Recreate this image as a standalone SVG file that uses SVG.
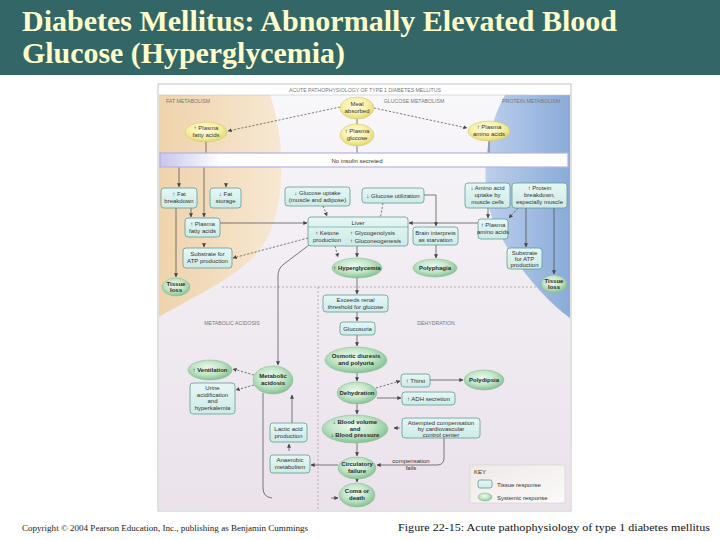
<svg xmlns="http://www.w3.org/2000/svg" width="720" height="540" viewBox="0 0 720 540">
<defs>
<style>
.box{fill:url(#boxg);stroke:#5f9c96;stroke-width:0.8}
.ell{fill:url(#ellg);stroke:#86b892;stroke-width:0.5}
.yel{fill:url(#yelg);stroke:#cfc46a;stroke-width:0.5}
.t{font-family:"Liberation Sans",Arial,sans-serif;font-size:6px;fill:#333;text-anchor:middle}
.s{text-anchor:start}
.b{font-weight:bold;fill:#2a2a2a}
.sec{font-family:"Liberation Sans",Arial,sans-serif;font-size:5.2px;fill:#777;text-anchor:middle}
.c{stroke:#454545;stroke-width:0.7;fill:none}
.a{marker-end:url(#ah)}
.d{stroke-dasharray:2.2 1.6}
.sep{stroke:#a3a3a3;stroke-width:0.8;stroke-dasharray:2 2;fill:none}
</style>
<marker id="ah" viewBox="0 0 6 6" refX="5.5" refY="3" markerWidth="4" markerHeight="4" markerUnits="userSpaceOnUse" orient="auto">
<path d="M0,0 L6,3 L0,6 Z" fill="#454545"/>
</marker>
<linearGradient id="boxg" x1="0" y1="0" x2="0" y2="1">
<stop offset="0" stop-color="#e6f7f5"/><stop offset="1" stop-color="#cdebe7"/>
</linearGradient>
<radialGradient id="ellg" cx="0.45" cy="0.4" r="0.6">
<stop offset="0" stop-color="#eef9ee"/><stop offset="0.55" stop-color="#c3e6c8"/><stop offset="1" stop-color="#86c295"/>
</radialGradient>
<radialGradient id="yelg" cx="0.45" cy="0.4" r="0.6">
<stop offset="0" stop-color="#fffde0"/><stop offset="0.6" stop-color="#f7f1a8"/><stop offset="1" stop-color="#e2d874"/>
</radialGradient>
<linearGradient id="bgg" x1="0" y1="0" x2="0" y2="1">
<stop offset="0" stop-color="#f8f7fa"/><stop offset="0.45" stop-color="#f1ecf2"/><stop offset="1" stop-color="#ebe2ec"/>
</linearGradient>
<linearGradient id="fatg" x1="0" y1="0" x2="1" y2="0">
<stop offset="0" stop-color="#efd3ac"/><stop offset="1" stop-color="#f7e8d3"/>
</linearGradient>
<linearGradient id="protg" x1="0" y1="0" x2="1" y2="0">
<stop offset="0" stop-color="#bccfec"/><stop offset="1" stop-color="#8aabd9"/>
</linearGradient>
<linearGradient id="barg" x1="0" y1="0" x2="1" y2="0">
<stop offset="0" stop-color="#c8c6ec"/><stop offset="0.15" stop-color="#ffffff"/><stop offset="1" stop-color="#ffffff"/>
</linearGradient>
<linearGradient id="keyg" x1="0" y1="0" x2="1" y2="1">
<stop offset="0" stop-color="#efe9e6"/><stop offset="1" stop-color="#fbfafa"/>
</linearGradient>
</defs>

<rect x="0" y="0" width="720" height="540" fill="#ffffff"/>
<rect x="0" y="0" width="720" height="75" fill="#336666"/>
<text x="22" y="31" font-family="'Liberation Serif','Times New Roman',serif" font-size="30" font-weight="bold" fill="#ffffcc" textLength="595" lengthAdjust="spacingAndGlyphs">Diabetes Mellitus: Abnormally Elevated Blood</text>
<text x="22" y="63" font-family="'Liberation Serif','Times New Roman',serif" font-size="30" font-weight="bold" fill="#ffffcc" textLength="323" lengthAdjust="spacingAndGlyphs">Glucose (Hyperglycemia)</text>

<!-- figure frame -->
<rect x="158" y="84" width="413" height="427" fill="#ffffff" stroke="#b3b3b3" stroke-width="0.8"/>
<rect x="159" y="95" width="411" height="415" fill="url(#bgg)"/>
<path d="M159,95 L270,95 C284,135 288,200 266,240 C245,275 205,290 159,317 Z" fill="url(#fatg)"/>
<path d="M505,95 C482,135 478,200 500,235 C518,268 545,300 570,318 L570,95 Z" fill="url(#protg)"/>
<line x1="159" y1="95" x2="570" y2="95" stroke="#c4c4c4" stroke-width="0.6"/>
<text x="365" y="91.5" class="sec" font-size="5.6">ACUTE PATHOPHYSIOLOGY OF TYPE 1 DIABETES MELLITUS</text>
<text x="188" y="103" class="sec">FAT METABOLISM</text>
<text x="414" y="103" class="sec">GLUCOSE METABOLISM</text>
<text x="531" y="103" class="sec">PROTEIN METABOLISM</text>
<path class="sep" d="M222,287 L568,287 M318,287 L318,510"/>
<text x="232" y="325" class="sec">METABOLIC ACIDOSIS</text>
<text x="436" y="325" class="sec">DEHYDRATION</text>

<g id="connectors">
<path class="c d a" d="M340,107 L228,131"/>
<path class="c d a" d="M374,108 L467,128"/>
<path class="c" d="M357,119 L357,124"/>
<path class="c" d="M206,142 L206,153"/>
<path class="c" d="M357,146 L357,153"/>
<path class="c" d="M489,141 L489,153"/>
<path class="c a" d="M179,167 L179,187"/>
<path class="c a" d="M204,167 L204,217"/>
<path class="c a" d="M226,183 L226,187"/>
<path class="c a" d="M191,208 L191,217"/>
<path class="c a" d="M176,208 L176,277"/>
<path class="c a" d="M220,223 L307,223"/>
<path class="c a" d="M204,243 L204,247"/>
<path class="c d a" d="M308,238 L233,258"/>
<path class="c d a" d="M323,206 L327,216"/>
<path class="c d a" d="M383,203 L379,226"/>
<path class="c a" d="M424,195 L436,195 L436,226"/>
<path class="c a" d="M478,223 L409,223"/>
<path class="c a" d="M436,245 L436,258"/>
<path class="c a" d="M488,208 L488,218"/>
<path class="c d a" d="M518,208 L509,218"/>
<path class="c a" d="M526,208 L526,247"/>
<path class="c a" d="M554,208 L554,274"/>
<path class="c d a" d="M335,246 L338,257"/>
<path class="c a" d="M357,246 L357,257"/>
<path class="c a" d="M309,245 L284,264 Q278,268 278,276 L278,365"/>
<path class="c a" d="M357,278 L357,294"/>
<path class="c a" d="M357,312 L357,321"/>
<path class="c a" d="M357,335 L357,346"/>
<path class="c a" d="M357,373 L357,381"/>
<path class="c d a" d="M376,388 L400,381"/>
<path class="c a" d="M377,398 L401,398"/>
<path class="c a" d="M430,380 L463,380"/>
<path class="c a" d="M357,404 L357,414"/>
<path class="c a" d="M400,428 L394,428"/>
<path class="c a" d="M444,438 L444,458 Q444,465 437,465 L377,465"/>
<path class="c a" d="M357,443 L357,456"/>
<path class="c a" d="M357,479 L357,482"/>
<path class="c a" d="M338,465 L311,465"/>
<path class="c a" d="M289,451 L289,444"/>
<path class="c a" d="M292,423 L292,395"/>
<path class="c d a" d="M254,375 L233,369"/>
<path class="c d a" d="M254,385 L236,390"/>
<path class="c" d="M263,393 L263,488 Q263,497 272,498"/>
<path class="c a" d="M331,498 L338,498"/>
</g>
<text x="411" y="462.5" class="t" font-size="5.5">compensation</text>
<text x="411" y="470" class="t" font-size="5.5">fails</text>

<!-- insulin bar -->
<g id="bar">
<rect x="160" y="153" width="408" height="14" fill="url(#barg)" stroke="#b4b2e2" stroke-width="1.2"/>
<text x="357" y="162.5" class="t">No insulin secreted</text>
</g>

<g id="meal"><ellipse cx="357" cy="108" rx="17" ry="11" class="yel"/><text class="t" x="357" y="106">Meal</text><text class="t" x="357" y="113">absorbed</text></g>
<g id="pglu"><ellipse cx="357" cy="135" rx="17" ry="11" class="yel"/><text class="t" x="357" y="133">↑ Plasma</text><text class="t" x="357" y="140">glucose</text></g>
<g id="pfa1"><ellipse cx="206" cy="132" rx="21" ry="10" class="yel"/><text class="t" x="206" y="130">↑ Plasma</text><text class="t" x="206" y="137">fatty acids</text></g>
<g id="paa1"><ellipse cx="489" cy="131" rx="21" ry="10" class="yel"/><text class="t" x="489" y="129">↑ Plasma</text><text class="t" x="489" y="136">amino acids</text></g>

<g id="fatbrk"><rect x="161" y="188" width="36" height="20" rx="3" class="box"/><text class="t" x="179" y="196">↑ Fat</text><text class="t" x="179" y="203">breakdown</text></g>
<g id="fatsto"><rect x="210" y="188" width="31" height="20" rx="3" class="box"/><text class="t" x="225.5" y="196">↓ Fat</text><text class="t" x="225.5" y="203">storage</text></g>
<g id="gupt"><rect x="285" y="187" width="65" height="19" rx="3" class="box"/><text class="t" x="317.5" y="195">↓ Glucose uptake</text><text class="t" x="317.5" y="202">(muscle and adipose)</text></g>
<g id="gutil"><rect x="362" y="188" width="62" height="15" rx="3" class="box"/><text class="t" x="393" y="197.5">↓ Glucose utilization</text></g>
<g id="aaupt"><rect x="465" y="183" width="45" height="25" rx="3" class="box"/><text class="t" x="487.5" y="190">↓ Amino acid</text><text class="t" x="487.5" y="197">uptake by</text><text class="t" x="487.5" y="204">muscle cells</text></g>
<g id="protbrk"><rect x="512" y="183" width="55" height="25" rx="3" class="box"/><text class="t" x="539.5" y="190">↑ Protein</text><text class="t" x="539.5" y="197">breakdown,</text><text class="t" x="539.5" y="204">especially muscle</text></g>
<g id="pfa2"><rect x="185" y="218" width="35" height="19" rx="3" class="box"/><text class="t" x="202.5" y="226">↑ Plasma</text><text class="t" x="202.5" y="233">fatty acids</text></g>
<g id="liver"><rect x="308" y="217" width="100" height="29" rx="3" class="box"/><line x1="308" y1="227" x2="408" y2="227" stroke="#5f9c96" stroke-width="0.6"/><text class="t" x="358" y="224.5">Liver</text><text class="t" x="327" y="235">↑ Ketone</text><text class="t" x="327" y="242">production</text><text class="t s" x="350" y="235">↑ Glycogenolysis</text><text class="t s" x="350" y="243">↑ Gluconeogenesis</text></g>
<g id="brain"><rect x="413" y="227" width="45" height="18" rx="3" class="box"/><text class="t" x="435.5" y="234.5">Brain interprets</text><text class="t" x="435.5" y="241.5">as starvation</text></g>
<g id="paa2"><rect x="478" y="219" width="30" height="20" rx="3" class="box"/><text class="t" x="493" y="227">↑ Plasma</text><text class="t" x="493" y="234">amino acids</text></g>
<g id="sub1"><rect x="183" y="248" width="49" height="20" rx="3" class="box"/><text class="t" x="207.5" y="256">Substrate for</text><text class="t" x="207.5" y="263">ATP production</text></g>
<g id="sub2"><rect x="507" y="248" width="35" height="21" rx="3" class="box"/><text class="t" x="524.5" y="254.5">Substrate</text><text class="t" x="524.5" y="260.5">for ATP</text><text class="t" x="524.5" y="266.5">production</text></g>

<g id="tissue1"><ellipse cx="176" cy="287" rx="14" ry="9" class="ell"/><text class="t b" x="176" y="285.5">Tissue</text><text class="t b" x="176" y="292">loss</text></g>
<g id="hyper"><ellipse cx="357" cy="268" rx="25" ry="10" class="ell"/><text class="t b" x="357" y="270">↑ Hyperglycemia</text></g>
<g id="polyph"><ellipse cx="435" cy="268" rx="22" ry="9" class="ell"/><text class="t b" x="435" y="270">Polyphagia</text></g>
<g id="tissue2"><ellipse cx="554" cy="284" rx="13" ry="9" class="ell"/><text class="t b" x="554" y="282.5">Tissue</text><text class="t b" x="554" y="289">loss</text></g>

<g id="exceeds"><rect x="323" y="295" width="65" height="17" rx="3" class="box"/><text class="t" x="355.5" y="302">Exceeds renal</text><text class="t" x="355.5" y="309">threshold for glucose</text></g>
<g id="glucosuria"><rect x="340" y="322" width="35" height="13" rx="3" class="box"/><text class="t" x="357.5" y="330.5">Glucosuria</text></g>
<g id="osm"><ellipse cx="356" cy="360" rx="31" ry="13" class="ell"/><text class="t b" x="356" y="358">Osmotic diuresis</text><text class="t b" x="356" y="365">and polyuria</text></g>
<g id="dehyd"><ellipse cx="357" cy="393" rx="20" ry="11" class="ell"/><text class="t b" x="357" y="395">Dehydration</text></g>
<g id="thirst"><rect x="401" y="374" width="29" height="13" rx="3" class="box"/><text class="t" x="415.5" y="382.5">↑ Thirst</text></g>
<g id="adh"><rect x="402" y="392" width="53" height="13" rx="3" class="box"/><text class="t" x="428.5" y="400.5">↑ ADH secretion</text></g>
<g id="polydip"><ellipse cx="484" cy="380" rx="20" ry="10" class="ell"/><text class="t b" x="484" y="382">Polydipsia</text></g>
<g id="blood"><ellipse cx="355" cy="429" rx="33" ry="14" class="ell"/><text class="t b" x="355" y="424">↓ Blood volume</text><text class="t b" x="355" y="430.5">and</text><text class="t b" x="355" y="437">↓ Blood pressure</text></g>
<g id="attempt"><rect x="402" y="418" width="78" height="20" rx="3" class="box"/><text class="t" font-size="5.6" x="441" y="424.5">Attempted compensation</text><text class="t" font-size="5.6" x="441" y="430.5">by cardiovascular</text><text class="t" font-size="5.6" x="441" y="436.5">control center</text></g>
<g id="circ"><ellipse cx="357" cy="468" rx="19" ry="11" class="ell"/><text class="t b" x="357" y="466">Circulatory</text><text class="t b" x="357" y="473">failure</text></g>
<g id="coma"><ellipse cx="357" cy="495" rx="18" ry="12" class="ell"/><text class="t b" x="357" y="493">Coma or</text><text class="t b" x="357" y="500">death</text></g>
<g id="acid"><ellipse cx="273" cy="380" rx="20" ry="14" class="ell"/><text class="t b" x="273" y="378">Metabolic</text><text class="t b" x="273" y="385">acidosis</text></g>
<g id="vent"><ellipse cx="210" cy="370" rx="22" ry="10" class="ell"/><text class="t b" x="210" y="372">↑ Ventilation</text></g>
<g id="urine"><rect x="190" y="383" width="45" height="31" rx="3" class="box"/><text class="t" x="212.5" y="390">Urine</text><text class="t" x="212.5" y="396.5">acidification</text><text class="t" x="212.5" y="403">and</text><text class="t" x="212.5" y="409.5">hyperkalemia</text></g>
<g id="lactic"><rect x="270" y="423" width="37" height="19" rx="3" class="box"/><text class="t" x="288.5" y="431">Lactic acid</text><text class="t" x="288.5" y="438">production</text></g>
<g id="anaer"><rect x="270" y="455" width="40" height="18" rx="3" class="box"/><text class="t" x="290" y="462">Anaerobic</text><text class="t" x="290" y="469">metabolism</text></g>

<g id="key">
<rect x="470" y="465" width="95" height="38" fill="url(#keyg)" stroke="#cfcfcf" stroke-width="0.6"/>
<text x="474" y="474" class="t s" font-size="5.5">KEY</text>
<rect x="478" y="480" width="14" height="8" rx="2" class="box"/>
<text x="497" y="486.5" class="t s" font-size="5.5">Tissue response</text>
<ellipse cx="485" cy="497" rx="7" ry="4" class="ell"/>
<text x="497" y="499.5" class="t s" font-size="5.5">Systemic response</text>
</g>

<text x="22" y="531" font-family="'Liberation Serif','Times New Roman',serif" font-size="9" fill="#222" textLength="286" lengthAdjust="spacingAndGlyphs">Copyright © 2004 Pearson Education, Inc., publishing as Benjamin Cummings</text>
<text x="398" y="531" font-family="'Liberation Serif','Times New Roman',serif" font-size="11" fill="#111" textLength="312" lengthAdjust="spacingAndGlyphs">Figure 22-15: Acute pathophysiology of type 1 diabetes mellitus</text>
</svg>
